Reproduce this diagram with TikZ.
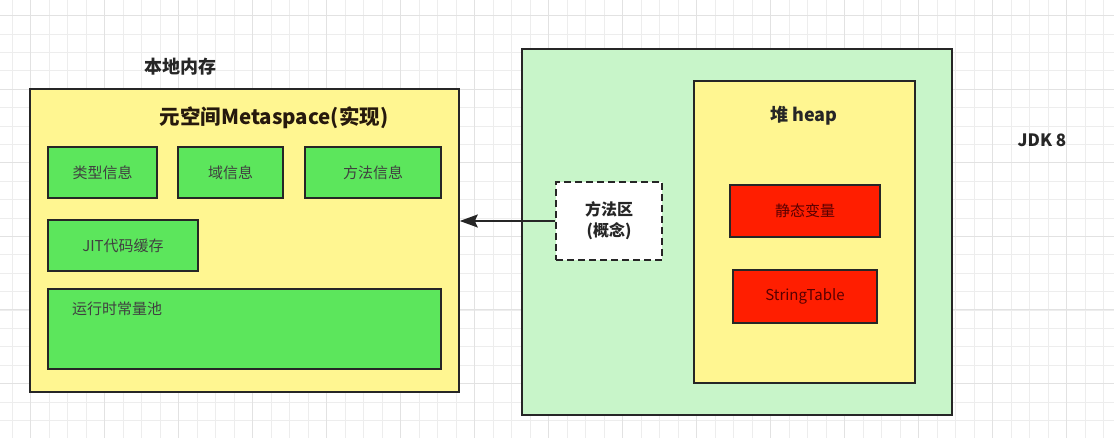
\documentclass[tikz,border=0pt]{standalone}
\usepackage{fontspec}
\setmainfont{Noto Sans CJK SC}
\usetikzlibrary{arrows.meta}
\definecolor{memyellow}{HTML}{FFF691}
\definecolor{boxgreen}{HTML}{5CE65C}
\definecolor{jvmgreen}{HTML}{C8F5C9}
\definecolor{boxred}{HTML}{FF1E00}
\definecolor{gridgray}{HTML}{EDEDED}
\definecolor{gridmajor}{HTML}{E2E2E2}
\begin{document}
\begin{tikzpicture}[x=1pt,y=-1pt,
    area/.style={draw=black!85,line width=1.6pt,inner sep=0pt},
    infobox/.style={area,fill=boxgreen,text=black!75,font=\fontsize{15}{18}\selectfont},
    redbox/.style={area,fill=boxred,text=red!35!black,font=\fontsize{15}{18}\selectfont}]
            \useasboundingbox (0,0) rectangle (1114,438);
            \fill[white] (0,0) rectangle (1114,438);
            % background grid
            \foreach \i in {0,...,59}
                \draw[gridgray,line width=0.8pt] ({12.2+18.5*\i},0) -- ++(0,438);
            \foreach \i in {0,...,23}
                \draw[gridgray,line width=0.8pt] (0,{15.6+18.4*\i}) -- ++(1114,0);
            \foreach \i in {0,...,14}
                \draw[gridmajor,line width=1pt] ({30.7+74*\i},0) -- ++(0,438);
            \foreach \i in {0,...,5}
                \draw[gridmajor,line width=1pt] (0,{15.6+73.6*\i}) -- ++(1114,0);
            % native memory
            \node[area,fill=memyellow,minimum width=429pt,minimum height=303pt] (mem) at (244.5,240.5) {};
            \node[font=\fontsize{18}{21}\selectfont\bfseries,text=black!85] (native) at (180,67) {本地内存};
            \node[font=\fontsize{20.5}{24}\selectfont\bfseries,text=black!80!brown] (meta) at (274,118) {元空间Metaspace(实现)};
            \node[infobox,minimum width=109pt,minimum height=51pt] (type) at (102.5,172.5) {类型信息};
            \node[infobox,minimum width=105pt,minimum height=51pt] (field) at (230.5,172.5) {域信息};
            \node[infobox,minimum width=136pt,minimum height=51pt] (method) at (373,172.5) {方法信息};
            \node[infobox,minimum width=150pt,minimum height=51pt] (jit) at (123,245.5) {JIT代码缓存};
            \node[infobox,minimum width=393pt,minimum height=80pt] (pool) at (244.5,329) {};
            \node[anchor=west,inner sep=0pt,text=black!75,font=\fontsize{15}{18}\selectfont] (pooltext) at (72,309) {运行时常量池};
            % jvm
            \node[area,fill=jvmgreen,minimum width=430pt,minimum height=366pt] (jvm) at (737,232) {};
            \node[area,fill=memyellow,minimum width=221pt,minimum height=302pt] (heap) at (804.5,232) {};
            \node[font=\fontsize{18}{21}\selectfont\bfseries,text=black!85] (heaptext) at (804,116) {堆 heap};
            \node[redbox,minimum width=150pt,minimum height=52pt] (static) at (805,211) {静态变量};
            \node[redbox,minimum width=144pt,minimum height=53pt] (strtab) at (805,296.5) {StringTable};
            \node[area,dashed,dash pattern=on 7pt off 4pt,fill=white,minimum width=106pt,minimum height=78pt,
                align=center,text=black!85,font=\fontsize{16}{21}\selectfont\bfseries] (marea) at (609,221) {方法区\\(概念)};
            \node[font=\fontsize{17}{20}\selectfont\bfseries,text=black!85] (jdk) at (1042,140) {JDK 8};
            \draw[-{Stealth[length=18pt,width=13pt,inset=3pt]},line width=1.6pt,black!85] (marea.west) -- (marea.west -| mem.east);
        \end{tikzpicture}
\end{document}
